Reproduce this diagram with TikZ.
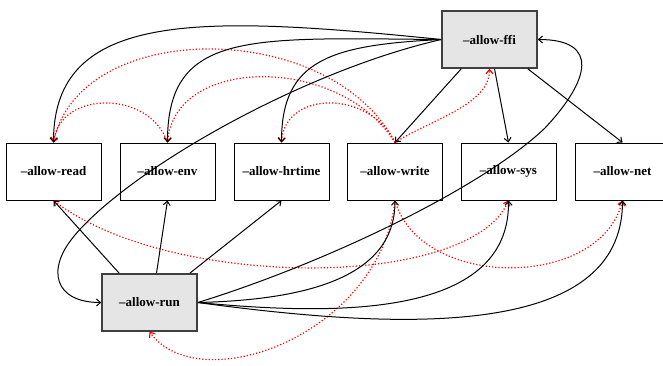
\documentclass[tikz,border=0pt]{standalone}
\usepackage{fontspec}
\setmainfont{Liberation Serif}
\usetikzlibrary{arrows.meta}
\definecolor{boxgray}{HTML}{E5E5E5}
\definecolor{edgegray}{HTML}{404040}
\begin{document}
\begin{tikzpicture}[x=1pt,y=-1pt,
  flag/.style={draw=black,line width=1pt,fill=white,minimum width=95pt,minimum height=57pt,inner sep=0pt,font=\fontsize{13}{15}\selectfont\bfseries},
  hub/.style={flag,fill=boxgray,draw=edgegray,line width=1.6pt},
  imp/.style={line width=1pt,-{Straight Barb[length=4pt,width=7pt]}},
  part/.style={red,line width=1.2pt,dash pattern=on 1.2pt off 2pt,-{Straight Barb[length=4pt,width=7pt]}},
  partb/.style={part,{Straight Barb[length=4pt,width=7pt]}-{Straight Barb[length=4pt,width=7pt]}}]
\useasboundingbox (0,0) rectangle (663,365);
% nodes
\node[hub]  (ffi)    at (489.5,39.5)  {–allow-ffi};
\node[flag] (read)   at (53.5,171.5)  {–allow-read};
\node[flag] (env)    at (167.5,171.5) {–allow-env};
\node[flag] (hrtime) at (281.5,171.5) {–allow-hrtime};
\node[flag] (write)  at (395,171.5)   {–allow-write};
\node[flag] (sys)    at (508.5,171.5) {–allow-sys};
\node[flag] (net)    at (622.5,171.5) {–allow-net};
\node[hub]  (run)    at (149.5,302.5) {–allow-run};
% red dotted (partial) edges, top
\draw[part] (write.north) .. controls (330,18) and (80,18) .. (read.north);
\draw[part] (write.north) .. controls (340,55) and (175,55) .. (env.north);
\draw[part] (write.north) .. controls (370,90) and (285,90) .. (hrtime.north);
\draw[part] (env.north) .. controls (150,90) and (60,90) .. (read.north);
\draw[part] (write.north) .. controls (430,120) and (489.5,105) .. (ffi.south);
% red dotted, bottom
\draw[partb] (read.south) .. controls (170,290) and (470,290) .. (sys.south);
\draw[part] (write.south) .. controls (420,290) and (600,290) .. (net.south);
\draw[part] (write.south) .. controls (380,335) and (200,400) .. (run.south);
% black edges from ffi
\draw[imp] (ffi.west) .. controls (200,15) and (53.5,10) .. (read.north);
\draw[imp] (ffi.west) .. controls (250,38) and (167.5,30) .. (env.north);
\draw[imp] (ffi.west) .. controls (330,45) and (281.5,60) .. (hrtime.north);
\draw[imp] (ffi.west) .. controls (300,72) and (130,170) .. (75,235)
   .. controls (45,270) and (55,302.5) .. (run.west);
\draw[imp] ([xshift=20pt]ffi.south west) -- (write.north);
\draw[imp] ([xshift=5pt]ffi.south) -- (sys.north);
\draw[imp] ([xshift=-10pt]ffi.south east) -- (net.north);
% black edges from run
\draw[imp] ([xshift=18pt]run.north west) -- (read.south);
\draw[imp] ([xshift=7pt]run.north) -- (env.south);
\draw[imp] ([xshift=-8pt]run.north east) -- (hrtime.south);
\draw[imp] (run.east) .. controls (300,300) and (395,280) .. (write.south);
\draw[imp] (run.east) .. controls (330,315) and (510,320) .. (sys.south);
\draw[imp] (run.east) .. controls (400,330) and (622.5,340) .. (net.south);
\draw[imp] (run.east) .. controls (320,265) and (480,190) .. (545,128)
   .. controls (590,80) and (600,39.5) .. (ffi.east);
\end{tikzpicture}
\end{document}
